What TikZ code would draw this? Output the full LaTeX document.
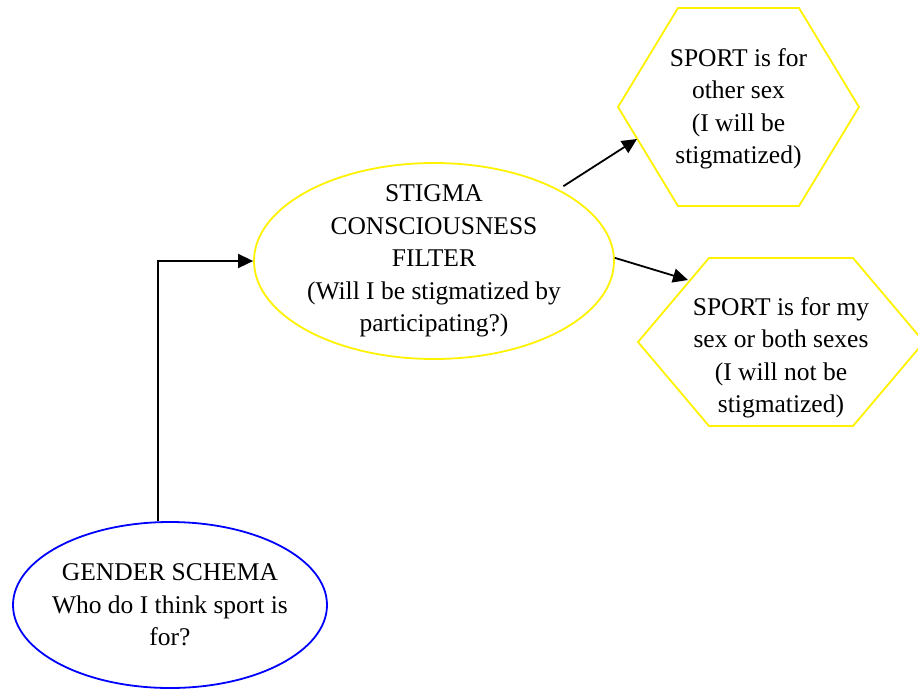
\documentclass[tikz,border=0pt]{standalone}
\usepackage{fontspec}
\setmainfont{Liberation Serif}
\usetikzlibrary{shapes.geometric,arrows.meta,calc}
\begin{document}
\begin{tikzpicture}[x=1pt,y=-1pt,
  lbl/.style={align=center,font=\fontsize{25.5}{32.5}\selectfont,inner sep=0pt},
  oval/.style={ellipse,inner sep=0pt,line width=1.8pt},
  arr/.style={-{Triangle[length=15pt,width=14pt]},line width=1.8pt},
  hexline/.style={draw=yellow,line width=1.8pt,line join=miter}]
\useasboundingbox (0,0) rectangle (918,689);

% ovals: outline nodes with their text set on top
\node[oval,draw=blue,minimum width=314pt,minimum height=166pt] (gender) at (170,605) {};
\node[lbl] (gendertext) at (170,605)
  {GENDER SCHEMA\\Who do I think sport is\\for?};
\node[oval,draw=yellow,minimum width=360pt,minimum height=196pt] (stigma) at (434,261) {};
\node[lbl] (stigmatext) at (434,261)
  {STIGMA\\CONSCIOUSNESS\\FILTER\\(Will I be stigmatized by\\participating?)};

% hexagon outcomes
\coordinate (h1c) at (738.5,107);
\draw[hexline] ($(h1c)+(-120.5,0)$) -- ($(h1c)+(-60.5,-99)$) -- ($(h1c)+(60.5,-99)$)
  -- ($(h1c)+(120.5,0)$) -- ($(h1c)+(60.5,99)$) -- ($(h1c)+(-60.5,99)$) -- cycle;
\node[lbl] (h1) at (738.5,109) {SPORT is for\\other sex\\(I will be\\stigmatized)};

\coordinate (h2c) at (781,342);
\draw[hexline] ($(h2c)+(-143,0)$) -- ($(h2c)+(-72,-84)$) -- ($(h2c)+(72,-84)$)
  -- ($(h2c)+(143,0)$) -- ($(h2c)+(72,84)$) -- ($(h2c)+(-72,84)$) -- cycle;
\node[lbl] (h2) at (781,358) {SPORT is for my\\sex or both sexes\\(I will not be\\stigmatized)};

% arrow ends on the hexagon edges
\coordinate (h1in) at (637,139);
\coordinate (h2in) at (688,280);

% connectors
\draw[arr] ([xshift=-12pt]gender.north) |- (stigma.west);
\draw[arr] ([shift={(5pt,3pt)}]stigma.30) -- (h1in);
\draw[arr] (stigma.1) -- (h2in);
\end{tikzpicture}
\end{document}
